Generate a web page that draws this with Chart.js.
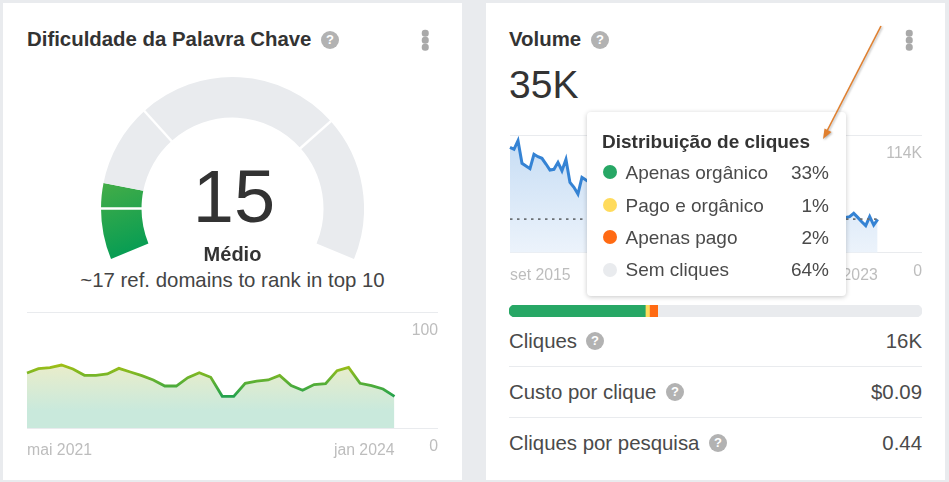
<!DOCTYPE html>
<html lang="pt"><head><meta charset="utf-8">
<script src="https://cdn.jsdelivr.net/npm/chart.js@4"></script>
<style>
html,body{margin:0;padding:0;width:949px;height:482px;overflow:hidden;background:#e9ebee;font-family:"Liberation Sans",Arial,sans-serif;color:#333}
.card{position:absolute;background:#fff;top:3px;height:477px;width:459px}
canvas{position:absolute;display:block}
.t{position:absolute;white-space:nowrap;line-height:1;transform:translateY(-50%)}
.r{transform:translate(-100%,-50%)}
.c{transform:translate(-50%,-50%)}
.title{font-weight:700;font-size:20.4px;color:#333}
.row{font-size:20.4px;color:#4a4a4a}
.help{position:absolute;width:18px;height:18px;border-radius:50%;background:#b2b2b2;color:#fff;font:700 13px/18px "Liberation Sans",Arial,sans-serif;text-align:center;transform:translate(-50%,-50%)}
.dot3{position:absolute;width:6.5px;height:6.5px;border-radius:50%;background:#a9a9a9;transform:translate(-50%,-50%)}
.sep{position:absolute;height:1px;background:#e9ebee;left:509px;width:413px}
#tip{position:absolute;left:587px;top:112px;width:259px;height:184px;background:#fff;border-radius:4px;box-shadow:0 1px 5px rgba(0,0,0,.22)}
.ld{position:absolute;left:603px;width:14px;height:14px;border-radius:50%;transform:translateY(-50%)}
.tr{font-size:19px;color:#4a4a4a}
#arrow{position:absolute;left:0;top:0}
</style></head><body>
<div class="card" style="left:3px"></div>
<div class="card" style="left:486px"></div>

<div class="t title" style="left:27px;top:39px">Dificuldade da Palavra Chave</div>
<div class="help" style="left:330px;top:40px">?</div>
<div class="dot3" style="left:425px;top:33px"></div><div class="dot3" style="left:425px;top:40px"></div><div class="dot3" style="left:425px;top:47px"></div>
<canvas id="gauge" width="263" height="182" style="left:101px;top:77px"></canvas>
<div class="t c" style="left:234px;top:197px;font-size:74px;color:#333">15</div>
<div class="t c" style="left:232.5px;top:254px;font-size:20px;font-weight:700">Médio</div>
<div class="t c" style="left:232.5px;top:280px;font-size:20.4px;color:#444">~17 ref. domains to rank in top 10</div>
<canvas id="kd" width="431" height="155" style="left:14px;top:305px"></canvas>

<div class="t title" style="left:509px;top:39px">Volume</div>
<div class="help" style="left:600px;top:40px">?</div>
<div class="dot3" style="left:909px;top:33px"></div><div class="dot3" style="left:909px;top:40px"></div><div class="dot3" style="left:909px;top:47px"></div>
<div class="t" style="left:509px;top:84px;font-size:39px;color:#333">35K</div>
<canvas id="vol" width="431" height="157" style="left:497px;top:128px"></canvas>
<canvas id="share" width="413" height="12" style="left:509px;top:305px"></canvas>

<div id="tip"></div>
<div class="t" id="tipTitle" style="left:602px;top:140.5px;font-size:19px;font-weight:700">Distribuição de cliques</div>
<div class="ld" style="top:171.5px;background:#27a765"></div><div class="t tr" style="left:625.5px;top:171.5px">Apenas orgânico</div><div class="t tr r" style="left:829px;top:171.5px">33%</div>
<div class="ld" style="top:204.5px;background:#ffdb5c"></div><div class="t tr" style="left:625.5px;top:204.5px">Pago e orgânico</div><div class="t tr r" style="left:829px;top:204.5px">1%</div>
<div class="ld" style="top:237px;background:#ff6a13"></div><div class="t tr" style="left:625.5px;top:237px">Apenas pago</div><div class="t tr r" style="left:829px;top:237px">2%</div>
<div class="ld" style="top:269.5px;background:#e9ebee"></div><div class="t tr" style="left:625.5px;top:269px">Sem cliques</div><div class="t tr r" style="left:829px;top:269px">64%</div>

<div class="t row" style="left:509px;top:341px">Cliques</div><div class="help" style="left:595px;top:341px">?</div><div class="t row r" style="left:922px;top:341px">16K</div>
<div class="sep" style="top:366px"></div>
<div class="t row" style="left:509px;top:392px">Custo por clique</div><div class="help" style="left:675px;top:392px">?</div><div class="t row r" style="left:922px;top:392px">$0.09</div>
<div class="sep" style="top:417px"></div>
<div class="t row" style="left:509px;top:443px">Cliques por pesquisa</div><div class="help" style="left:718px;top:443px">?</div><div class="t row r" style="left:922px;top:443px">0.44</div>

<svg id="arrow" width="949" height="482" style="filter:drop-shadow(1px 1px 1px rgba(0,0,0,.3))"><line x1="881" y1="26" x2="827" y2="131" stroke="#e07f2e" stroke-width="1.6"/><polygon points="823,139 824.5,128.5 831.5,132" fill="#e07f2e"/></svg>

<script>
// ---- data ----
const gaugeLabels = ['0-10', '10-15', '15-31', '31-72', '72-100'];
const gaugeValues = [10, 5, 16.3, 40.2, 28.5];
const gaugeSeparatorsAfter = [0, 2, 3];

const kdStart = ['mai', 2021];
const kdValues = [47.4,51.1,52,54.3,50.9,45.4,45.4,46.6,51.4,48.3,45.1,41.4,36.2,36.2,43.4,47.7,43.7,27.3,27.3,38.5,40.5,41.4,45.4,36.5,32.5,37.4,38.2,49.4,52.3,38.5,36.5,33.6,27.3];
const kdTicks = [0, 100];
const kdTickLabels = ['0', '100'];

const volStart = ['set', 2015];
const volValues = [102,100.1,108.5,86.6,84,81.4,95.3,93,91.4,85.9,80.1,80.8,87.5,79.4,90.4,68.1,63.3,56.8,73,70.4,
 68,64,66,62,60,63,58,61,57,55,58,54,52,56,53,50,52,48,51,47,49,46,44,47,45,43,46,42,44,41,43,40,42,39,41,38,40,43,39,37,41,38,36,39,37,35,38,36,34,37,35,33,36,34,37,35,33,36,34,32,35,33,36,35,
 34.2,34.9,38.1,34.2,30,26.2,34.9,26.8,32.3];
const volAverage = 32.6;
const volTicks = [0, 114];
const volTickLabels = ['0', '114K'];

const shareLabels = ['Apenas orgânico', 'Pago e orgânico', 'Apenas pago', 'Sem cliques'];
const shareValues = [33, 1, 2, 64];
const shareColors = ['#27a765', '#ffdb5c', '#ff6a13', '#e9ebee'];

const monthNames = ['jan','fev','mar','abr','mai','jun','jul','ago','set','out','nov','dez'];
function monthLabels(start, n) {
  let m = monthNames.indexOf(start[0]), y = start[1]; const out = [];
  for (let i = 0; i < n; i++) { out.push(monthNames[m] + ' ' + y); m++; if (m === 12) { m = 0; y++; } }
  return out;
}

// ---- charts ----
Chart.defaults.font.family = '"Liberation Sans", Arial, sans-serif';
Chart.defaults.animation = false;
Chart.defaults.responsive = false;
Chart.defaults.devicePixelRatio = 1;
Chart.defaults.plugins.legend.display = false;
Chart.defaults.plugins.tooltip.enabled = false;

const separators = {
  id: 'separators',
  afterDatasetsDraw(chart) {
    const c = chart.ctx, arcs = chart.getDatasetMeta(0).data;
    c.save(); c.strokeStyle = '#fff'; c.lineWidth = 2.5;
    gaugeSeparatorsAfter.forEach(i => {
      const a = arcs[i], ang = a.endAngle;
      c.beginPath();
      c.moveTo(a.x + Math.cos(ang) * (a.innerRadius - 1), a.y + Math.sin(ang) * (a.innerRadius - 1));
      c.lineTo(a.x + Math.cos(ang) * (a.outerRadius + 1), a.y + Math.sin(ang) * (a.outerRadius + 1));
      c.stroke();
    });
    c.restore();
  }
};
function gaugeColor(ctx) {
  if (ctx.dataIndex > 1) return '#e9ebee';
  const g = ctx.chart.ctx.createLinearGradient(0, 105, 30, 185);
  g.addColorStop(0, '#45ad47'); g.addColorStop(1, '#009b55');
  return g;
}
new Chart(document.getElementById('gauge'), {
  type: 'doughnut',
  data: { labels: gaugeLabels, datasets: [{ data: gaugeValues, backgroundColor: gaugeColor, borderWidth: 0 }] },
  options: { animation: false, rotation: -112.5, circumference: 225, cutout: '69.2%', layout: { padding: 0 } },
  plugins: [separators]
});

const axisFontSize = 15.8;
const measurer = document.createElement('canvas').getContext('2d');
measurer.font = axisFontSize + 'px "Liberation Sans", Arial, sans-serif';
function widest(list) { return Math.max(...list.map(s => measurer.measureText(s).width)); }

function trendOptions(labels, ticks, tickLabels, max, pad, axisW, axisH, lblPad, offs) {
  return {
    layout: { padding: pad, autoPadding: false },
    scales: {
      x: {
        grid: { display: false, drawTicks: false }, border: { display: false },
        afterBuildTicks: s => { s.ticks = [{ value: 0 }, { value: labels.length - 1 }]; },
        ticks: { autoSkip: false, maxRotation: 0, minRotation: 0, align: 'inner', padding: lblPad, color: '#bdbdbd', font: { size: axisFontSize } },
        afterFit: s => { s.height = axisH; }
      },
      y: {
        position: 'right', min: 0, max: max,
        grid: { color: '#e9ebee', tickLength: axisW, lineWidth: 1 }, border: { display: false },
        afterBuildTicks: s => { s.ticks = ticks.map(v => ({ value: v })); },
        ticks: {
          crossAlign: 'far', padding: -widest(tickLabels), labelOffset: offs, color: '#bdbdbd', font: { size: axisFontSize },
          callback: v => tickLabels[ticks.indexOf(v)]
        },
        afterFit: s => { s.width = axisW; }
      }
    }
  };
}

const kdLabels = monthLabels(kdStart, kdValues.length);
new Chart(document.getElementById('kd'), {
  type: 'line',
  data: { labels: kdLabels, datasets: [{
    data: kdValues, pointRadius: 0, borderWidth: 2.8, tension: 0, fill: 'origin', clip: false,
    borderColor: c => {
      const a = c.chart.chartArea, sy = c.chart.scales.y; if (!a || !sy) return '#6aa82a';
      const g = c.chart.ctx.createLinearGradient(0, sy.getPixelForValue(55), 0, sy.getPixelForValue(27));
      g.addColorStop(0, '#a2bf14'); g.addColorStop(1, '#22a24e'); return g;
    },
    backgroundColor: c => {
      const a = c.chart.chartArea, sy = c.chart.scales.y; if (!a || !sy) return '#d8ecd8';
      const g = c.chart.ctx.createLinearGradient(0, sy.getPixelForValue(55), 0, sy.getPixelForValue(15));
      g.addColorStop(0, '#eaedca'); g.addColorStop(1, '#c9e9dc'); return g;
    }
  }] },
  options: trendOptions(kdLabels, kdTicks, kdTickLabels, 100, { left: 12.5, right: 7, top: 7, bottom: 0 }, 43.5, 32, 13, 19)
});

const volLabels = monthLabels(volStart, volValues.length);
new Chart(document.getElementById('vol'), {
  type: 'line',
  data: { labels: volLabels, datasets: [
    { data: volLabels.map(() => volAverage), pointRadius: 0, borderWidth: 1.7, borderColor: '#6b7075', borderDash: [2.5, 4.5], fill: false, order: 0 },
    { data: volValues, pointRadius: 0, borderWidth: 3, tension: 0, fill: 'origin', clip: false, borderColor: '#3583d4', order: 1,
      backgroundColor: c => {
        const a = c.chart.chartArea; if (!a) return '#dbe9f8';
        const g = c.chart.ctx.createLinearGradient(0, a.top, 0, a.bottom);
        g.addColorStop(0, '#c5dcf4'); g.addColorStop(1, '#ecf3fb'); return g;
      } }
  ] },
  options: trendOptions(volLabels, volTicks, volTickLabels, 114, { left: 12, right: 6, top: 7, bottom: 0 }, 44.3, 32.3, 13, 19)
});

new Chart(document.getElementById('share'), {
  type: 'bar',
  data: { labels: ['Distribuição de cliques'], datasets: shareValues.map((v, i) => ({
    label: shareLabels[i], data: [v], backgroundColor: shareColors[i], borderWidth: 0, borderSkipped: false,
    barPercentage: 1, categoryPercentage: 1,
    borderRadius: i === 0 ? { topLeft: 6, bottomLeft: 6 } : i === shareValues.length - 1 ? { topRight: 6, bottomRight: 6 } : 0
  })) },
  options: { indexAxis: 'y', layout: { padding: 0 }, scales: {
    x: { stacked: true, display: false, min: 0, max: 100 },
    y: { stacked: true, display: false }
  } }
});
</script>
</body></html>
